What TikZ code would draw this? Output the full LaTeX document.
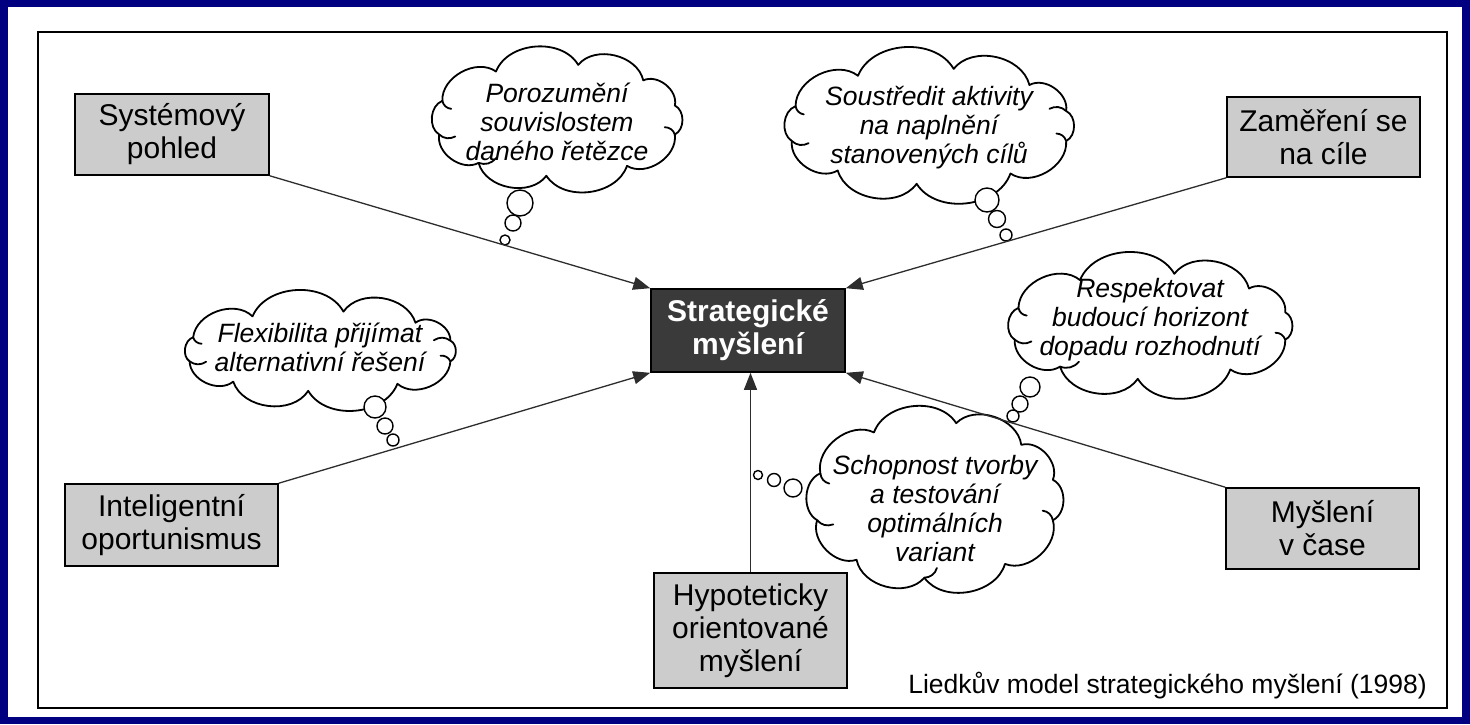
\documentclass[tikz,border=0pt]{standalone}
\usepackage{fontspec}
\setmainfont{Liberation Sans}
\usetikzlibrary{arrows.meta}
\definecolor{navy}{RGB}{0,0,128}
\definecolor{boxgray}{RGB}{204,204,204}
\definecolor{darkbox}{RGB}{58,58,58}
\definecolor{inkgray}{RGB}{45,45,45}

% outline of a thought cloud: centre, radii, first junction angle,
% remaining junction angles (closing with first+360), angles with inner hooks
\newcommand\puffcloud[7]{%
  \draw[cloudline, fill=white] ({#1+#3*cos(#5)},{#2+#4*sin(#5)})
    \foreach \a in {#6} { to[bend left=64] ({#1+#3*cos(\a)},{#2+#4*sin(\a)}) } -- cycle;
  \foreach \a in {#7}
    \draw[cloudline] ({#1+#3*cos(\a)},{#2+#4*sin(\a)})
      to[bend right=35] ({#1+(#3-13)*cos(\a-6)},{#2+(#4-10)*sin(\a-6)});
}

\begin{document}
\begin{tikzpicture}[x=1pt,y=-1pt,
  idea/.style={draw=black, line width=1.6pt, fill=boxgray, align=center, inner sep=0pt,
    font=\fontsize{30}{33}\selectfont, text=black},
  core/.style={draw=black, line width=1.6pt, fill=darkbox, align=center, inner sep=0pt,
    font=\fontsize{30}{33}\selectfont\bfseries, text=white},
  cloudline/.style={draw=black, line width=1.8pt, line join=round, line cap=round},
  thought/.style={align=center, inner sep=0pt, font=\fontsize{26.5}{29}\selectfont\itshape},
  bubble/.style={circle, draw=black, line width=1.4pt, fill=white, inner sep=0pt},
  link/.style={draw=inkgray, line width=1.3pt, -{Triangle[length=17pt,width=13pt]}},
]
% page and frame
\fill[navy] (0,0) rectangle (1470,724);
\fill[white] (8,7) rectangle (1462,717);
\draw[line width=2pt] (38,32) rectangle (1447,708);

% central concept
\node[core, minimum width=194, minimum height=83] (strat) at (748,330.5) {Strategické\\myšlení};

% the five dimensions
\node[idea, minimum width=194, minimum height=81] (sys) at (172,134.5) {Systémový\\pohled};
\node[idea, minimum width=193, minimum height=80] (zam) at (1323.5,137) {Zaměření se\\na cíle};
\node[idea, minimum width=213, minimum height=82] (int) at (171.5,525) {Inteligentní\\oportunismus};
\node[idea, minimum width=193, minimum height=81] (cas) at (1322.5,528.5) {Myšlení\\v čase};
\node[idea, minimum width=193, minimum height=115] (hyp) at (750.5,630.5) {Hypoteticky\\orientované\\myšlení};

% thought clouds with their trails of bubbles
\puffcloud{557}{120}{122}{56}{15}{55,95,130,165,200,240,280,315,345,375}{165,200,130,15}
\node[thought] (t1) at (557,122) {Porozumění\\souvislostem\\daného řetězce};
\node[bubble, minimum size=26] (t1a) at (520,203) {};
\node[bubble, minimum size=16] (t1b) at (513,223) {};
\node[bubble, minimum size=10] (t1c) at (505,240) {};

\puffcloud{929}{126}{142}{58}{15}{55,95,130,165,200,240,280,315,345,375}{165,200,15,345}
\node[thought] (t2) at (929,128) {Soustředit aktivity\\na naplnění\\stanovených cílů};
\node[bubble, minimum size=24] (t2a) at (987,200) {};
\node[bubble, minimum size=17] (t2b) at (997,219) {};
\node[bubble, minimum size=12] (t2c) at (1006,235) {};

\puffcloud{320}{351}{135}{40}{15}{55,95,130,165,200,240,280,315,345,375}{165,200,15,345}
\node[thought] (t3) at (320,347) {Flexibilita přijímat\\alternativní řešení};
\node[bubble, minimum size=22] (t3a) at (375,407) {};
\node[bubble, minimum size=16] (t3b) at (385,426) {};
\node[bubble, minimum size=12] (t3c) at (393,440) {};

\puffcloud{1150}{326}{140}{53}{15}{55,95,130,165,200,240,280,315,345,375}{165,200,15,130}
\node[thought] (t4) at (1150,320) {Respektovat\\budoucí horizont\\dopadu rozhodnutí};
\node[bubble, minimum size=20] (t4a) at (1030,387) {};
\node[bubble, minimum size=16] (t4b) at (1020,404) {};
\node[bubble, minimum size=12] (t4c) at (1013,416) {};

\puffcloud{935}{500}{122}{78}{15}{55,95,130,165,200,240,280,315,345,375}{165,200,95,15}
\node[thought] (t5) at (935,509) {Schopnost tvorby\\a testování\\optimálních\\variant};
\node[bubble, minimum size=18] (t5a) at (793,488) {};
\node[bubble, minimum size=13] (t5b) at (774,480) {};
\node[bubble, minimum size=9] (t5c) at (758,475) {};

% connectors into the central concept
\draw[link] (sys.south east) -- (strat.north west);
\draw[link] (zam.south west) -- (strat.north east);
\draw[link] (int.north east) -- (strat.south west);
\draw[link] (cas.north west) -- (strat.south east);
\draw[link] (hyp.north) -- (hyp.north |- strat.south);

% source note
\node[anchor=east, inner sep=0pt, font=\fontsize{26.5}{29}\selectfont] (note) at (1427,686) {Liedkův model strategického myšlení (1998)};
\end{tikzpicture}
\end{document}
